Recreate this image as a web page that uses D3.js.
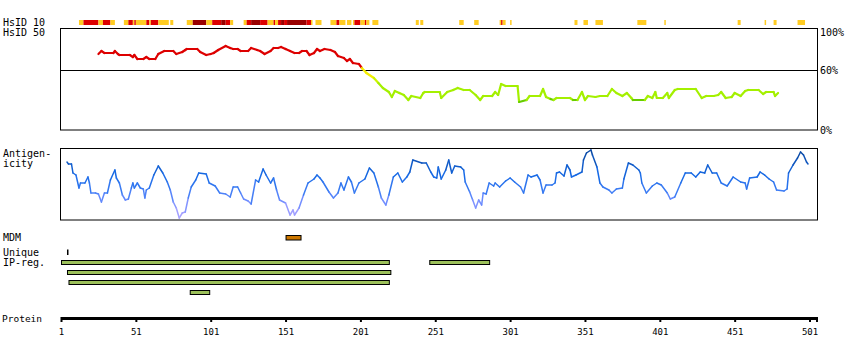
<!DOCTYPE html>
<html><head><meta charset="utf-8">
<script src="https://cdn.jsdelivr.net/npm/d3@7"></script>
<style>body{margin:0;background:#fff}svg{display:block}</style>
</head><body>
<svg id="c" width="850" height="360"></svg>
<script>
// ---------- data ----------
const proteinLength = 506;
const proteinTicks = [1, 51, 101, 151, 201, 251, 301, 351, 401, 451, 501];
const hsidTicks = [100, 60, 0];

// HsID 10 conservation blocks (1 = weak, 2 = medium, 3 = strong)
const hsid10Start = [13,16,26,29,34,43,46,49,50,51,58,60,61,66,74,85,89,98,102,108,111,114,123,125,128,134,139,143,144,146,148,150,152,165,168,171,181,185,187,192,196,197,201,204,205,209,238,241,267,277,294,295,296,301,344,350,358,386,404,453,471,477,493];
const hsid10End   = [16,26,29,34,37,46,49,50,51,58,60,61,66,73,76,89,98,102,108,111,114,116,125,128,134,139,143,144,146,148,150,152,165,168,169,175,185,187,191,195,197,201,204,205,207,213,240,243,270,280,295,296,298,302,346,353,363,392,405,455,472,479,498];
const hsid10Level = [1,2,1,2,1,1,2,1,2,1,2,1,2,1,1,1,3,1,2,3,2,1,1,2,3,2,1,2,1,2,3,2,3,2,1,1,1,2,1,1,1,2,1,2,1,1,1,1,1,1,1,2,1,1,1,1,1,1,1,1,1,1,1];

// HsID 50 identity (%)
const hsid50Res = [26,28,30,36,37,39,40,47,49,50,52,56,58,60,64,66,70,76,78,82,84,85,92,94,98,101,103,106,111,114,116,119,121,126,128,132,134,137,141,143,146,148,151,154,157,160,162,165,167,170,172,174,177,181,184,186,190,192,194,196,200,202,205,210,213,216,220,222,224,227,230,233,235,241,243,244,254,255,259,263,266,270,274,278,281,283,289,291,293,295,298,306,307,312,314,321,323,325,328,330,332,341,343,346,349,351,353,358,361,366,369,372,376,379,382,383,391,393,396,398,399,403,406,407,411,413,425,429,432,437,440,442,445,449,451,455,458,460,467,470,472,477,478,480];
const hsid50Val = [76,79,77,77,79,76,75,75,73,75,71,71,73,71,71,76,79,79,76,78,80,81,81,78,75,76,77,80,84,82,81,81,79,79,82,80,79,76,79,82,82,83,81,79,77,77,79,79,75,77,81,79,81,80,78,74,72,69,71,67,66,62,57,52,47,42,38,33,39,37,35,30,34,32,37,38,38,32,38,40,42,40,40,35,30,34,34,38,35,46,44,44,28,30,34,34,41,33,31,30,32,32,30,30,38,30,34,33,34,34,41,37,34,37,32,30,30,34,32,38,32,32,37,32,40,41,41,32,34,34,35,38,32,33,37,34,39,40,40,36,38,38,34,37];

// Antigenicity
const antiRes = [5,6,8,9,11,13,14,17,19,20,21,24,26,28,30,32,34,37,38,40,42,44,46,48,49,50,52,54,56,57,58,60,63,66,69,72,74,76,78,80,82,84,86,88,91,93,98,100,104,107,111,114,116,119,121,123,126,128,131,133,136,138,141,143,145,147,151,154,156,157,160,163,166,170,172,174,176,180,183,186,188,190,193,195,197,200,204,207,210,213,215,218,220,223,226,229,232,234,236,242,245,248,250,252,253,255,258,260,262,264,268,270,271,274,276,278,280,282,283,285,287,290,291,294,298,301,304,308,310,313,315,319,321,323,325,329,331,332,334,337,339,341,342,345,349,350,352,355,356,359,361,363,367,369,372,376,377,380,383,387,388,389,392,396,399,402,406,408,411,415,418,422,425,428,431,433,436,439,442,446,450,455,458,459,461,466,468,471,474,477,479,484,486,487,490,493,495,497,499,500];
const antiVal = [58,56,56,47,45,32,37,37,43,37,27,27,26,18,27,27,40,50,42,37,25,20,21,32,37,32,37,32,31,22,30,32,45,54,47,38,30,18,12,2,7,8,22,33,40,47,46,37,34,27,26,23,33,33,27,21,19,16,40,38,51,45,37,42,30,20,17,5,10,5,12,25,37,41,45,42,38,28,22,27,37,30,43,38,27,37,41,52,47,33,22,15,25,43,47,38,43,48,60,57,57,48,43,42,53,41,50,60,47,54,53,50,38,28,20,12,20,15,27,26,37,34,37,33,39,42,38,33,27,45,43,45,40,27,35,35,37,47,48,44,55,50,43,45,48,60,67,70,65,53,37,33,30,27,31,32,41,57,55,50,47,37,27,34,37,35,27,21,23,37,47,47,43,48,47,55,47,47,37,34,43,38,37,31,42,43,48,45,41,38,30,29,31,47,55,62,68,65,58,56];

// Feature annotations
const mdmStart = [151], mdmEnd = [161];
const uniqueStart = [5], uniqueEnd = [6];
const ipregStart = [1, 247, 5, 6, 87];
const ipregEnd   = [220, 287, 221, 220, 100];
const ipregRow   = [0, 0, 1, 2, 3];

// ---------- drawing ----------
const svg = d3.select("#c");
const FONT = "DejaVu Sans Mono, monospace";
const x = d3.scaleLinear().domain([1, proteinLength]).range([61, 817]);
const yH = d3.scaleLinear().domain([0, 100]).range([130, 30]);
const yA = d3.scaleLinear().domain([0, 72]).range([220, 148]);

function label(t, lx, ly, size) {
  svg.append("text").attr("x", lx).attr("y", ly).attr("font-family", FONT)
    .attr("font-size", size || 10).attr("fill", "#000").text(t);
}

// left labels
label("HsID 10", 3, 26);
label("HsID 50", 3, 36);
label("Antigen-", 3, 157);
label("icity", 3, 167);
label("MDM", 3, 241);
label("Unique", 3, 256);
label("IP-reg.", 3, 266);
label("Protein", 2, 322, 9.5);

// HsID 10 bar
const lvlColor = {1: "#ffcc22", 2: "#dd0000", 3: "#990000"};
svg.append("g").selectAll("rect").data(hsid10Start).join("rect")
  .attr("x", (d) => x(d)).attr("y", 20)
  .attr("width", (d, i) => x(hsid10End[i]) - x(d)).attr("height", 5)
  .attr("fill", (d, i) => lvlColor[hsid10Level[i]]);

// HsID 50 box
svg.append("rect").attr("x", 60.5).attr("y", 28.5).attr("width", 757).attr("height", 101.5)
  .attr("fill", "none").attr("stroke", "#000");
svg.append("line").attr("x1", 60).attr("x2", 818).attr("y1", yH(60) + 0.5).attr("y2", yH(60) + 0.5)
  .attr("stroke", "#000");
hsidTicks.forEach((t) => label(t + "%", 820, yH(t) + (t === 100 ? 5.5 : 3.5)));

function hsidColor(v) {
  if (v >= 60) return "#dd0000";
  if (v >= 54) return "#f4ee00";
  if (v >= 47) return "#ccf400";
  if (v > 30.6) return "#a4f000";
  return "#66cc00";
}
const hsPts = hsid50Res.map((r, i) => [x(r), yH(hsid50Val[i]), hsid50Val[i]]);
const gH = svg.append("g");
for (let i = 0; i < hsPts.length - 1; i++) {
  const a = hsPts[i], b = hsPts[i + 1];
  gH.append("line").attr("x1", a[0]).attr("y1", a[1]).attr("x2", b[0]).attr("y2", b[1])
    .attr("stroke", hsidColor((a[2] + b[2]) / 2)).attr("stroke-width", 2.2).attr("stroke-linecap", "round");
}

// Antigenicity box
svg.append("rect").attr("x", 60.5).attr("y", 148.5).attr("width", 757).attr("height", 71.5)
  .attr("fill", "none").attr("stroke", "#000");
const aColor = d3.scaleLinear().domain([0, 10, 20, 30, 45, 66])
  .range(["#b4a8ff", "#9a9cff", "#6c8cff", "#3c7cf4", "#176ae6", "#0a4aa6"]).clamp(true);
const aPts = antiRes.map((r, i) => [x(r), yA(antiVal[i]), antiVal[i]]);
const gA = svg.append("g");
for (let i = 0; i < aPts.length - 1; i++) {
  const a = aPts[i], b = aPts[i + 1];
  gA.append("line").attr("x1", a[0]).attr("y1", a[1]).attr("x2", b[0]).attr("y2", b[1])
    .attr("stroke", aColor((a[2] + b[2]) / 2)).attr("stroke-width", 1.5).attr("stroke-linecap", "round");
}

// MDM
svg.append("g").selectAll("rect").data(mdmStart).join("rect")
  .attr("x", (d) => x(d) + 0.5).attr("y", 235.5)
  .attr("width", (d, i) => x(mdmEnd[i]) - x(d)).attr("height", 4.5)
  .attr("fill", "#cc7700").attr("stroke", "#000");
// Unique
svg.append("g").selectAll("rect").data(uniqueStart).join("rect")
  .attr("x", (d) => x(d)).attr("y", 249.5)
  .attr("width", (d, i) => Math.max(1.5, x(uniqueEnd[i]) - x(d))).attr("height", 5.5)
  .attr("fill", "#000");
// IP-reg
svg.append("g").selectAll("rect").data(ipregStart).join("rect")
  .attr("x", (d) => x(d) + 0.5).attr("y", (d, i) => 260.5 + ipregRow[i] * 10)
  .attr("width", (d, i) => x(ipregEnd[i]) - x(d)).attr("height", 4)
  .attr("fill", "#9cc05a").attr("stroke", "#000");

// Protein axis
svg.append("rect").attr("x", x(1)).attr("y", 317).attr("width", x(proteinLength) - x(1) + 1).attr("height", 3)
  .attr("fill", "#000");
const axis = d3.axisBottom(x).tickValues(proteinTicks).tickSizeInner(5).tickSizeOuter(0).tickPadding(6.5)
  .tickFormat(d3.format("d"));
const gx = svg.append("g").attr("transform", "translate(0,317)").call(axis);
gx.select(".domain").remove();
gx.selectAll(".tick line").attr("stroke", "#000").attr("stroke-width", 2);
gx.selectAll(".tick text").attr("font-family", FONT).attr("font-size", 9).attr("fill", "#000");
svg.append("line").attr("x1", x(proteinLength)).attr("x2", x(proteinLength)).attr("y1", 317).attr("y2", 322)
  .attr("stroke", "#000").attr("stroke-width", 2);
</script>
</body></html>
